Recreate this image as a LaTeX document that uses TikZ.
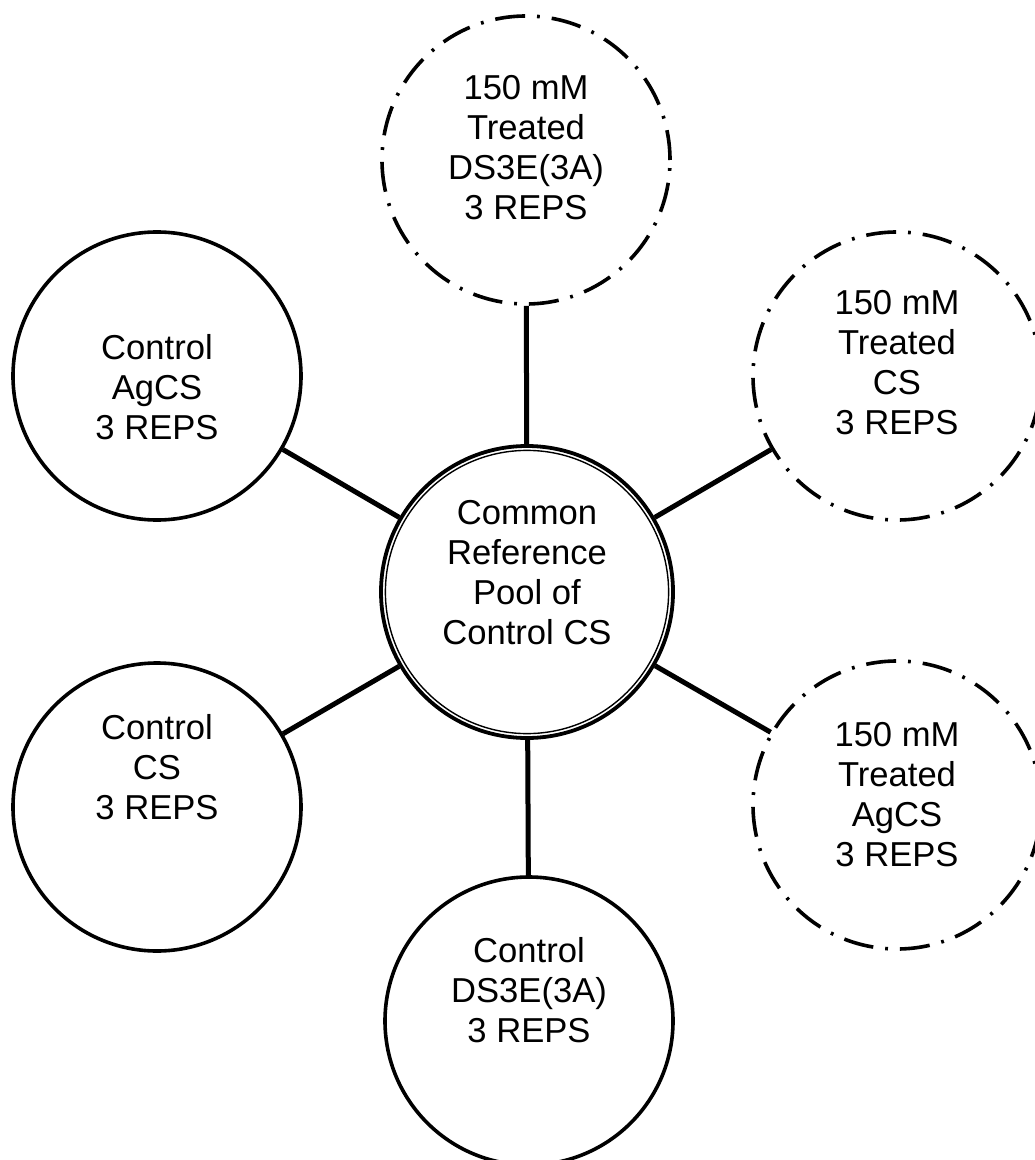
\documentclass[tikz,border=0pt]{standalone}
\usepackage{fontspec}
\setmainfont{Liberation Sans}
\tikzset{
	sample/.style={circle, draw, line width=1.8pt, minimum size=144pt, inner sep=0pt},
	treated/.style={sample, dash pattern=on 15pt off 6pt on 1.4pt off 6pt},
	pool/.style={sample, minimum size=146pt, line width=1.9pt,
		path picture={\draw[line width=0.7pt] (path picture bounding box.center) circle[radius=70.8pt];}},
	lbl/.style={align=center, font=\fontsize{17.3}{20}\selectfont},
	link/.style={line width=2.5pt}
}
\begin{document}
\begin{tikzpicture}[x=0.5pt, y=-0.5pt]
	\useasboundingbox (0,0) rectangle (1034,1160);
	\node[pool] (ref) at (527,592) {};
	\node[treated] (trds) at (526,160) {};
	\node[treated] (trcs) at (897,376) {};
	\node[treated] (trag) at (897,805) {};
	\node[sample] (cnds) at (529,1021) {};
	\node[sample] (cncs) at (157,807) {};
	\node[sample] (cnag) at (157,376) {};
	\node[lbl] (ref-t) at (527,573) {Common\\Reference\\Pool of\\Control CS};
	\node[lbl] (trds-t) at (526,148) {150 mM\\Treated\\DS3E(3A)\\3 REPS};
	\node[lbl] (trcs-t) at (897,363) {150 mM\\Treated\\CS\\3 REPS};
	\node[lbl] (trag-t) at (897,795) {150 mM\\Treated\\AgCS\\3 REPS};
	\node[lbl] (cnds-t) at (529,990) {Control\\DS3E(3A)\\3 REPS};
	\node[lbl] (cncs-t) at (157,767) {Control\\CS\\3 REPS};
	\node[lbl] (cnag-t) at (157,387) {Control\\AgCS\\3 REPS};
	\foreach \s in {trds,trcs,trag,cnds,cncs,cnag}
		\draw[link] (ref) -- (\s);
\end{tikzpicture}
\end{document}
